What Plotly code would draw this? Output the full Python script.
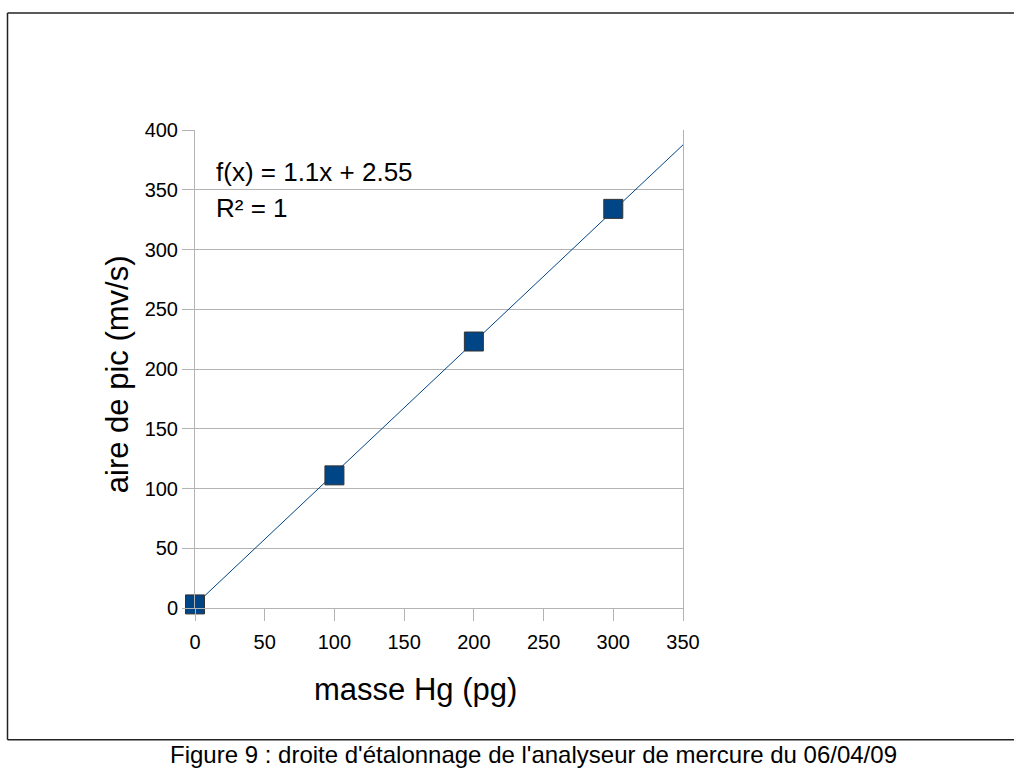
import plotly.graph_objects as go

masse = [0, 100, 200, 300]
aire = [3, 111, 223, 334]
slope = 1.1
intercept = 2.55
trend_x = [0, 350]
trend_y = [slope * x + intercept for x in trend_x]

x_ticks = [0, 50, 100, 150, 200, 250, 300, 350]
y_ticks = [0, 50, 100, 150, 200, 250, 300, 350, 400]

W, H = 1014, 769
L, R, T, B = 195, 683, 129.5, 608

def px(x):
    return (x - L) / (R - L)

def py(y):
    return (B - y) / (B - T)

fig = go.Figure()
fig.add_trace(go.Scatter(x=trend_x, y=trend_y, mode="lines",
                         line=dict(color="#004586", width=1), cliponaxis=False,
                         showlegend=False, hoverinfo="skip"))
fig.add_trace(go.Scatter(x=masse, y=aire, mode="markers",
                         marker=dict(symbol="square", size=19, color="#004586",
                                     line=dict(color="#333333", width=1)),
                         cliponaxis=False, showlegend=False))

font = "Liberation Sans, Arial, sans-serif"
fig.update_layout(
    width=W, height=H,
    margin=dict(l=L, r=W - R, t=T, b=H - B, pad=0),
    paper_bgcolor="white", plot_bgcolor="white",
    font=dict(family=font, color="black", size=20),
    xaxis=dict(range=[0, 350], tickvals=x_ticks, showgrid=False,
               showline=True, linecolor="#b3b3b3", linewidth=1,
               ticks="outside", ticklen=12, tickcolor="#b3b3b3",
               tickfont=dict(size=20), zeroline=False, mirror=False,
               ticklabelstandoff=4),
    yaxis=dict(range=[0, 400], tickvals=y_ticks, showgrid=True,
               gridcolor="#b3b3b3", gridwidth=1,
               showline=True, linecolor="#b3b3b3", linewidth=1, mirror=True,
               ticks="outside", ticklen=12, tickcolor="#b3b3b3",
               tickfont=dict(size=20), zeroline=False),
)

annotations = [
    dict(text="f(x) = 1.1x + 2.55", x=px(214), y=py(172), xanchor="left", yanchor="middle",
         font=dict(size=26)),
    dict(text="R² = 1", x=px(214), y=py(208), xanchor="left", yanchor="middle",
         font=dict(size=26)),
    dict(text="aire de pic (mv/s)", x=px(117), y=py(374), xanchor="center", yanchor="middle",
         textangle=-90, font=dict(size=31)),
    dict(text="masse Hg (pg)", x=px(415), y=py(690), xanchor="center", yanchor="middle",
         font=dict(size=31)),
    dict(text="Figure 9 : droite d'étalonnage de l'analyseur de mercure du 06/04/09",
         x=px(533), y=py(755), xanchor="center", yanchor="middle", font=dict(size=24)),
]
for a in annotations:
    a.update(xref="paper", yref="paper", showarrow=False)
fig.update_layout(annotations=annotations)

shapes = [
    dict(type="line", x0=px(7.5), x1=px(7.5), y0=py(12.5), y1=py(740)),
    dict(type="line", x0=px(7.5), x1=px(1014), y0=py(12.5), y1=py(12.5)),
    dict(type="line", x0=px(7.5), x1=px(1014), y0=py(740), y1=py(740)),
]
for s in shapes:
    s.update(xref="paper", yref="paper", line=dict(color="#222222", width=1.5))
fig.update_layout(shapes=shapes)

fig.write_html("out.html")
